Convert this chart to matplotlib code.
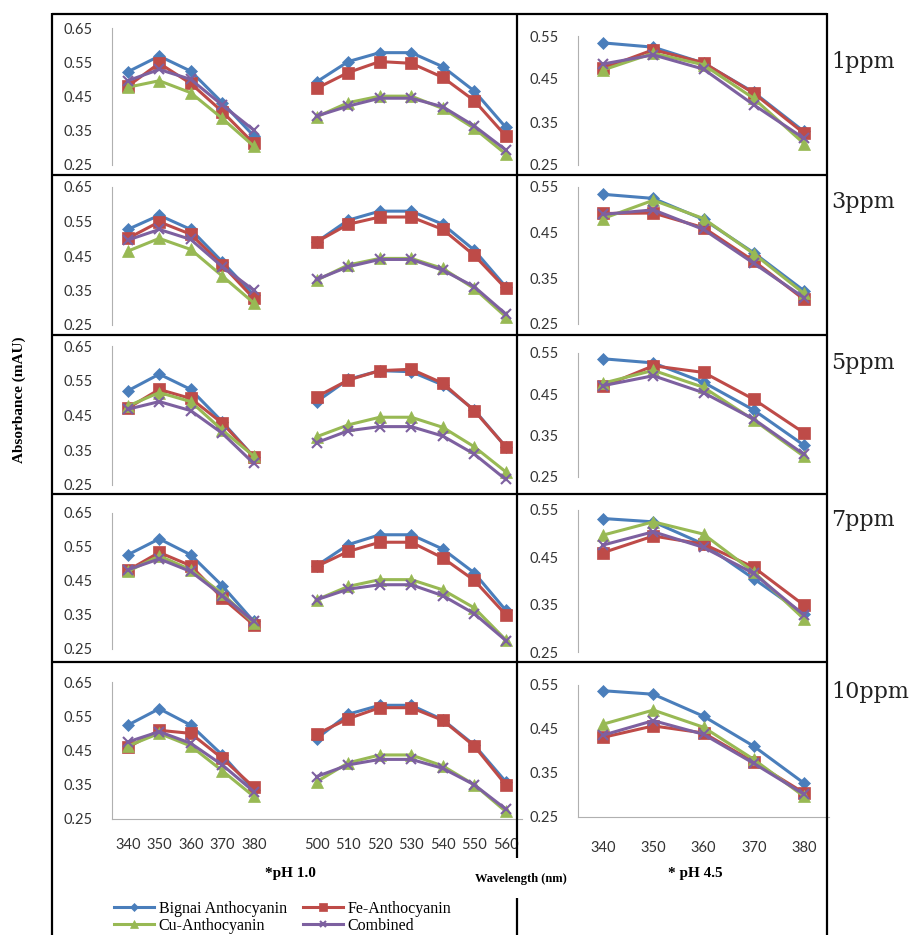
import matplotlib
matplotlib.use("Agg")
import matplotlib.pyplot as plt

# wavelengths
wl_ph1 = ['340', '350', '360', '370', '380', '500', '510', '520', '530', '540', '550', '560']
wl_ph45 = ['340', '350', '360', '370', '380']
conc = ['1ppm', '3ppm', '5ppm', '7ppm', '10ppm']
series_names = ['Bignai Anthocyanin', 'Fe-Anthocyanin', 'Cu-Anthocyanin', 'Combined']

# pH 1.0 absorbance, one row per concentration
bignai_ph1 = [
    [0.522, 0.568, 0.524, 0.432, 0.335, 0.493, 0.552, 0.578, 0.578, 0.537, 0.466, 0.360],
    [0.527, 0.568, 0.527, 0.433, 0.337, 0.491, 0.554, 0.580, 0.580, 0.542, 0.467, 0.361],
    [0.521, 0.569, 0.525, 0.432, 0.331, 0.490, 0.554, 0.579, 0.576, 0.538, 0.466, 0.360],
    [0.527, 0.574, 0.527, 0.436, 0.331, 0.495, 0.557, 0.586, 0.586, 0.544, 0.474, 0.364],
    [0.524, 0.572, 0.524, 0.437, 0.335, 0.485, 0.556, 0.582, 0.582, 0.540, 0.466, 0.359],
]
fe_ph1 = [
    [0.480, 0.547, 0.488, 0.406, 0.313, 0.474, 0.520, 0.552, 0.547, 0.506, 0.438, 0.335],
    [0.501, 0.549, 0.513, 0.424, 0.327, 0.491, 0.542, 0.563, 0.563, 0.527, 0.452, 0.356],
    [0.471, 0.525, 0.499, 0.428, 0.331, 0.504, 0.552, 0.579, 0.583, 0.543, 0.464, 0.360],
    [0.481, 0.534, 0.495, 0.400, 0.321, 0.493, 0.537, 0.564, 0.564, 0.518, 0.452, 0.351],
    [0.459, 0.509, 0.500, 0.427, 0.343, 0.498, 0.543, 0.575, 0.575, 0.538, 0.463, 0.350],
]
cu_ph1 = [
    [0.477, 0.496, 0.461, 0.386, 0.305, 0.391, 0.432, 0.451, 0.451, 0.415, 0.357, 0.282],
    [0.464, 0.501, 0.469, 0.392, 0.314, 0.380, 0.424, 0.443, 0.443, 0.414, 0.356, 0.274],
    [0.477, 0.516, 0.490, 0.408, 0.333, 0.389, 0.423, 0.445, 0.445, 0.416, 0.360, 0.288],
    [0.478, 0.524, 0.483, 0.413, 0.326, 0.395, 0.434, 0.454, 0.454, 0.424, 0.371, 0.277],
    [0.463, 0.500, 0.463, 0.391, 0.316, 0.359, 0.414, 0.437, 0.437, 0.405, 0.350, 0.272],
]
comb_ph1 = [
    [0.496, 0.529, 0.500, 0.425, 0.352, 0.393, 0.422, 0.445, 0.445, 0.420, 0.364, 0.294],
    [0.496, 0.527, 0.498, 0.419, 0.351, 0.382, 0.419, 0.440, 0.440, 0.409, 0.361, 0.282],
    [0.468, 0.490, 0.464, 0.399, 0.312, 0.372, 0.406, 0.418, 0.418, 0.391, 0.339, 0.266],
    [0.483, 0.515, 0.478, 0.407, 0.331, 0.395, 0.426, 0.439, 0.439, 0.407, 0.354, 0.275],
    [0.475, 0.505, 0.471, 0.408, 0.330, 0.374, 0.408, 0.424, 0.424, 0.398, 0.350, 0.279],
]

# pH 4.5 absorbance
bignai_ph45 = [
    [0.534, 0.524, 0.487, 0.419, 0.328],
    [0.534, 0.525, 0.479, 0.406, 0.323],
    [0.536, 0.526, 0.479, 0.412, 0.327],
    [0.532, 0.525, 0.478, 0.405, 0.330],
    [0.537, 0.529, 0.479, 0.411, 0.327],
]
fe_ph45 = [
    [0.475, 0.518, 0.488, 0.417, 0.324],
    [0.492, 0.493, 0.461, 0.388, 0.304],
    [0.469, 0.519, 0.503, 0.438, 0.357],
    [0.460, 0.495, 0.478, 0.429, 0.349],
    [0.431, 0.457, 0.441, 0.375, 0.305],
]
cu_ph45 = [
    [0.471, 0.510, 0.483, 0.405, 0.300],
    [0.481, 0.521, 0.481, 0.404, 0.317],
    [0.477, 0.508, 0.467, 0.388, 0.300],
    [0.497, 0.525, 0.499, 0.419, 0.320],
    [0.461, 0.493, 0.454, 0.381, 0.297],
]
comb_ph45 = [
    [0.485, 0.506, 0.473, 0.390, 0.312],
    [0.490, 0.500, 0.457, 0.383, 0.308],
    [0.471, 0.495, 0.454, 0.390, 0.305],
    [0.476, 0.504, 0.471, 0.416, 0.328],
    [0.436, 0.469, 0.438, 0.372, 0.302],
]

colors = ['#4A7EBB', '#BE4B48', '#98B954', '#7D60A0']
markers = ['D', 's', '^', 'x']
msizes = [6, 8.5, 8.5, 7]

W, H = 911, 935
fig = plt.figure(figsize=(W / 100, H / 100), dpi=100)

tick_font = 'Lato'
serif = 'Liberation Serif'


def px_axes(x0, y0, x1, y1):
    return fig.add_axes([x0 / W, 1 - y1 / H, (x1 - x0) / W, (y1 - y0) / H])


def style(ax, show_x):
    for s in ['top', 'right']:
        ax.spines[s].set_visible(False)
    ax.spines['left'].set_color('#B0B0B0')
    ax.spines['bottom'].set_color('#B0B0B0')
    ax.spines['bottom'].set_visible(show_x)
    ax.tick_params(length=0, labelsize=10.5, labelcolor='#333333')
    ax.tick_params(axis='y', pad=14)
    ax.tick_params(axis='x', pad=14)
    for lab in ax.get_xticklabels() + ax.get_yticklabels():
        lab.set_fontfamily(tick_font)
    ax.set_facecolor('none')


left_rows = [(28, 165), (187, 325), (346, 485), (513, 649), (682, 819)]
right_rows = [(36, 165), (187, 324), (353, 477), (510, 652), (685, 817)]

pos_a = [0, 1, 2, 3, 4]
pos_b = [6, 7, 8, 9, 10, 11, 12]
handles = []
for r in range(5):
    # pH 1.0 panel
    ax = px_axes(112, left_rows[r][0], 521.5, left_rows[r][1])
    data1 = [bignai_ph1[r], fe_ph1[r], cu_ph1[r], comb_ph1[r]]
    for i, vals in enumerate(data1):
        for pos, seg in [(pos_a, vals[:5]), (pos_b, vals[5:])]:
            ln, = ax.plot(pos, seg, color=colors[i], lw=2.2, marker=markers[i],
                          ms=msizes[i], mew=1.5 if markers[i] == 'x' else 0.5,
                          mec=colors[i], mfc=colors[i])
        if r == 0:
            handles.append(ln)
    ax.set_xlim(-0.5, 12.5)
    ax.set_ylim(0.25, 0.65)
    ax.set_yticks([0.25, 0.35, 0.45, 0.55, 0.65])
    ax.set_yticklabels(['0.25', '0.35', '0.45', '0.55', '0.65'])
    ax.set_xticks(pos_a + pos_b)
    ax.set_xticklabels(wl_ph1)
    if r < 4:
        ax.tick_params(axis='x', labelbottom=False)
    style(ax, r == 4)

    # pH 4.5 panel
    ax2 = px_axes(578, right_rows[r][0], 829, right_rows[r][1])
    data2 = [bignai_ph45[r], fe_ph45[r], cu_ph45[r], comb_ph45[r]]
    for i, vals in enumerate(data2):
        ax2.plot(range(len(wl_ph45)), vals, color=colors[i], lw=2.2, marker=markers[i],
                 ms=msizes[i], mew=1.5 if markers[i] == 'x' else 0.5,
                 mec=colors[i], mfc=colors[i])
    ax2.set_xlim(-0.5, 4.5)
    ax2.set_ylim(0.25, 0.55)
    ax2.set_yticks([0.25, 0.35, 0.45, 0.55])
    ax2.set_yticklabels(['0.25', '0.35', '0.45', '0.55'])
    ax2.set_xticks(range(len(wl_ph45)))
    ax2.set_xticklabels(wl_ph45)
    if r < 4:
        ax2.tick_params(axis='x', labelbottom=False)
    style(ax2, r == 4)
    ax2.tick_params(axis='x', pad=17)

# concentration labels
ppm_y = [62, 202, 363, 520, 692]
for lab, yy in zip(conc, ppm_y):
    fig.text(831 / W, 1 - yy / H, lab, fontsize=16, family='DejaVu Serif',
             va='center', ha='left', color='#222222')

# table borders
ov = fig.add_axes([0, 0, 1, 1], zorder=10)
ov.set_xlim(0, W)
ov.set_ylim(H, 0)
ov.axis('off')
ov.patch.set_alpha(0)
kw = dict(color='black', lw=1.6, solid_capstyle='butt')
ov.plot([52, 52], [13, H], **kw)
ov.plot([517, 517], [13, 858], **kw)
ov.plot([517, 517], [898, H], **kw)
ov.plot([827, 827], [13, H], **kw)
for yy in [14, 175, 335, 494, 662]:
    ov.plot([52, 827], [yy, yy], **kw)

# axis titles
fig.text(290 / W, 1 - 873 / H, '*pH 1.0', fontsize=11, weight='bold', family=serif,
         ha='center', va='center')
fig.text(521 / W, 1 - 879 / H, 'Wavelength (nm)', fontsize=9, weight='bold', family=serif,
         ha='center', va='center')
fig.text(695 / W, 1 - 873 / H, '* pH 4.5', fontsize=11, weight='bold', family=serif,
         ha='center', va='center')
fig.text(19 / W, 1 - 400 / H, 'Absorbance (mAU)', fontsize=11, weight='bold', family=serif,
         ha='center', va='center', rotation=90)

# legend laid out row-wise: Bignai | Fe, then Cu | Combined
order = [0, 2, 1, 3]
fig.legend([handles[k] for k in order], [series_names[k] for k in order],
           ncol=2, loc='upper left',
           bbox_to_anchor=(106 / W, 1 - 893 / H), frameon=False,
           prop={'family': serif, 'size': 11.5}, handlelength=2.5,
           handletextpad=0.3, columnspacing=1.0, labelspacing=0.05,
           markerscale=0.7, borderpad=0)

fig.savefig('out.png', dpi=100)
